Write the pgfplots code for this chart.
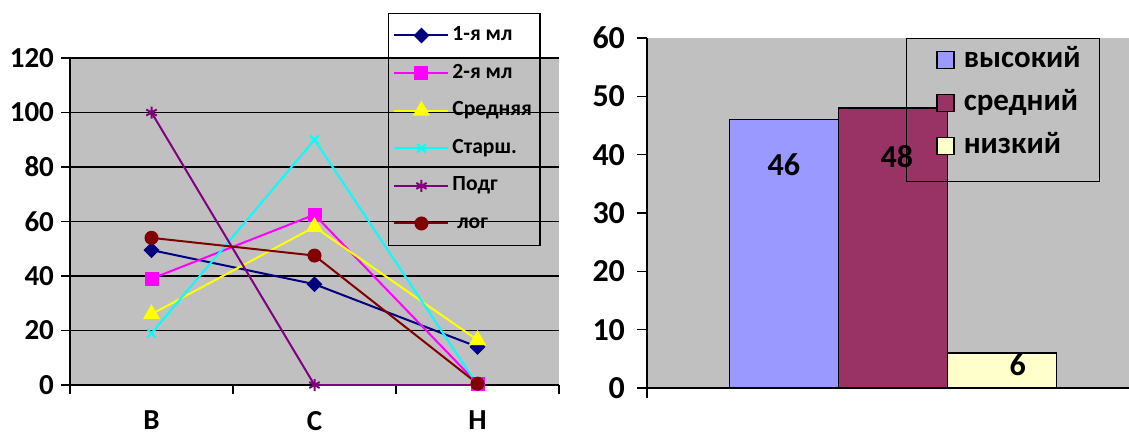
\documentclass[border=0pt]{standalone}
\usepackage{fontspec}
\setmainfont{Carlito}
\usepackage{pgfplots}
\pgfplotsset{compat=1.18}
\definecolor{plotgray}{HTML}{C0C0C0}
\definecolor{s1}{HTML}{000080}
\definecolor{s2}{HTML}{FF00FF}
\definecolor{s3}{HTML}{FFFF00}
\definecolor{s4}{HTML}{00FFFF}
\definecolor{s5}{HTML}{800080}
\definecolor{s6}{HTML}{800000}
\definecolor{b1}{HTML}{9999FF}
\definecolor{b2}{HTML}{993366}
\definecolor{b3}{HTML}{FFFFCC}
\begin{document}
\begin{tikzpicture}
\useasboundingbox (0,0) rectangle (564.5pt,218pt);
% left: line chart
\begin{axis}[
  at={(35pt,25.5pt)}, anchor=south west,
  width=244.5pt, height=163.5pt, scale only axis,
  xmin=0, xmax=3, ymin=0, ymax=120,
  axis lines*=left,
  axis line style={black, line width=0.8pt},
  axis background/.style={fill=plotgray},
  ytick={0,20,...,120},
  ymajorgrids, grid style={black, line width=0.8pt},
  tick align=outside, major tick length=4.5pt,
  tick style={black, line width=0.8pt},
  xtick={0,1,2,3}, xticklabels={},
  extra x ticks={0.5,1.5,2.5}, extra x tick labels={В,С,Н},
  extra x tick style={major tick length=0pt, grid=none,
    xticklabel style={yshift=-9.5pt}},
  /pgf/number format/assume math mode=true,
  ticklabel style={font=\bfseries\fontsize{14.5}{16}\selectfont},
  legend style={at={(0.650,1.138)}, anchor=north west, draw=black, fill=none,
    line width=0.6pt, inner xsep=2.5pt, inner ysep=4.5pt,
    font=\bfseries\fontsize{10.8}{12}\selectfont, row sep=5.8pt,
    nodes={inner sep=1.5pt, text height=7.5pt, text depth=2.5pt},
    cells={anchor=west}},
  legend image code/.code={\draw[mark repeat=2,mark phase=2,#1]
    plot coordinates {(0pt,0pt)(13.5pt,0pt)(27pt,0pt)};},
  every axis plot/.append style={line width=1pt},
]
\addplot[s1, mark=square*, mark size=2.3pt, mark options={rotate=45}] coordinates {(0.5,49.5)(1.5,37)(2.5,14)};
\addlegendentry{1-я мл}
\addplot[s2, mark=square*, mark size=3pt] coordinates {(0.5,39)(1.5,62.5)(2.5,0.5)};
\addlegendentry{2-я мл}
\addplot[s3, mark=triangle*, mark size=4pt] coordinates {(0.5,26)(1.5,58)(2.5,16.5)};
\addlegendentry{Средняя}
\addplot[s4, mark=x, mark size=3pt] coordinates {(0.5,19)(1.5,90)(2.5,0)};
\addlegendentry{Старш.}
\addplot[s5, mark=asterisk, mark size=3pt] coordinates {(0.5,100)(1.5,0)(2.5,0)};
\addlegendentry{Подг}
\addplot[s6, mark=*, mark size=3pt] coordinates {(0.5,54)(1.5,47.5)(2.5,0.5)};
\addlegendentry{\ лог}
\end{axis}
% right: bar chart
\begin{axis}[
  at={(323.5pt,24pt)}, anchor=south west,
  width=241pt, height=175pt, scale only axis,
  xmin=-0.02, xmax=1.98, ymin=0, ymax=60,
  axis lines*=left,
  axis line style={black, line width=0.8pt},
  axis background/.style={fill=plotgray},
  ybar=0pt, bar width=54.5pt,
  ytick={0,10,...,60},
  xtick={-0.02}, xticklabels={},
  tick align=outside, major tick length=5pt,
  tick style={black, line width=0.8pt},
  /pgf/number format/assume math mode=true,
  ticklabel style={font=\bfseries\fontsize{16}{18}\selectfont},
  yticklabel style={xshift=-2.5pt},
  legend style={at={(0.539,1.0)}, anchor=north west, draw=none, fill=none,
    inner xsep=2pt, inner ysep=2pt,
    font=\bfseries\fontsize{15.5}{18}\selectfont, row sep=4pt,
    nodes={inner sep=2pt, text height=10.5pt, text depth=3pt},
    cells={anchor=west}},
]
\addplot[fill=b1, draw=black, line width=0.8pt,
  legend image code/.code={\path (0pt,0pt) (23.5pt,0pt);
    \draw[fill=b1,draw=black,line width=0.8pt] (12.5pt,-4.2pt) rectangle (20.9pt,4.2pt);},
  nodes near coords, every node near coord/.append style={anchor=center, yshift=-22.5pt,
    font=\bfseries\fontsize{16}{18}\selectfont, text=black}]
  coordinates {(1,46)};
\addlegendentry{высокий\hspace{3pt}}
\addplot[fill=b2, draw=black, line width=0.8pt,
  legend image code/.code={\path (0pt,0pt) (23.5pt,0pt);
    \draw[fill=b2,draw=black,line width=0.8pt] (12.5pt,-4.2pt) rectangle (20.9pt,4.2pt);},
  nodes near coords, every node near coord/.append style={anchor=center, yshift=-24.5pt, xshift=2pt,
    font=\bfseries\fontsize{16}{18}\selectfont, text=black}]
  coordinates {(1,48)};
\addlegendentry{средний}
\addplot[fill=b3, draw=black, line width=0.8pt,
  legend image code/.code={\path (0pt,0pt) (23.5pt,0pt);
    \draw[fill=b3,draw=black,line width=0.8pt] (12.5pt,-4.2pt) rectangle (20.9pt,4.2pt);},
  nodes near coords, every node near coord/.append style={anchor=center, yshift=-6pt, xshift=8pt,
    font=\bfseries\fontsize{16}{18}\selectfont, text=black}]
  coordinates {(1,6)};
\addlegendentry{низкий}
% legend frame
\draw[black, line width=0.6pt] (rel axis cs:0.539,1) rectangle (rel axis cs:0.938,0.591);
\end{axis}
\end{tikzpicture}
\end{document}
